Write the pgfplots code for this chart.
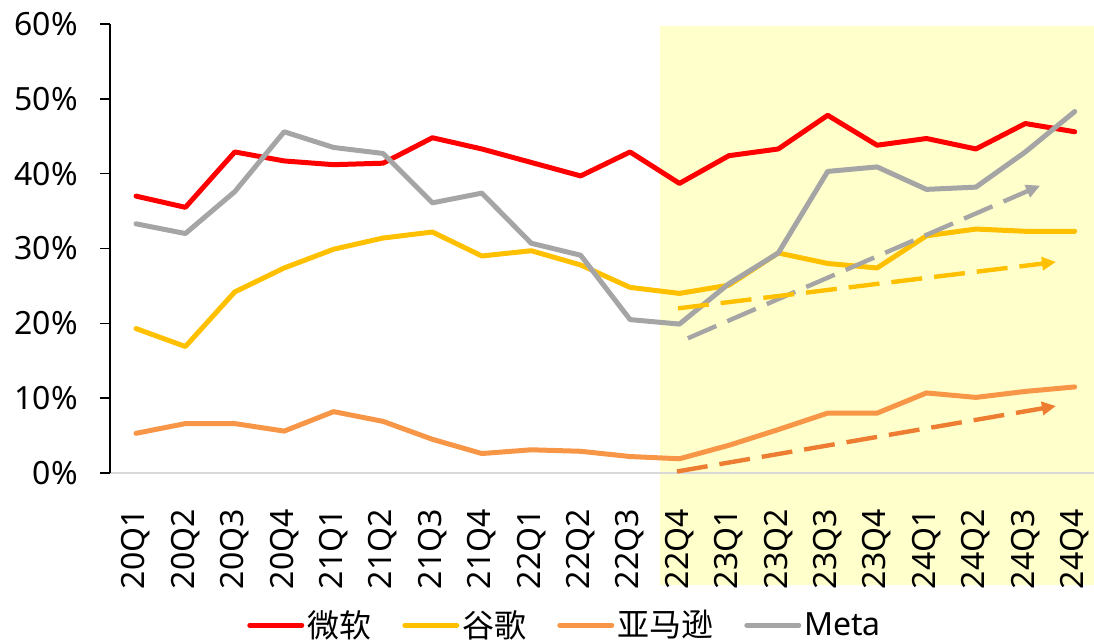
\documentclass[border=0pt]{standalone}
\usepackage{fontspec}
\setmainfont{Noto Sans}
\newfontfamily\cjk{Noto Sans CJK SC}
\usepackage{pgfplots}
\usepackage{pgfplotstable}
\pgfplotsset{compat=1.18}
\usetikzlibrary{arrows.meta}
\definecolor{cred}{HTML}{FF0000}
\definecolor{cyel}{HTML}{FFC000}
\definecolor{corg}{HTML}{F79646}
\definecolor{corgd}{HTML}{ED7D31}
\definecolor{cgry}{HTML}{A5A5A5}
\definecolor{chl}{HTML}{FFFFCC}
\definecolor{caxis}{HTML}{D9D9D9}

\pgfplotstableread{
x  ms   gg   amz  meta
0  37.0 19.3 5.3  33.3
1  35.5 16.9 6.6  32.0
2  42.9 24.2 6.6  37.6
3  41.7 27.4 5.6  45.6
4  41.2 29.9 8.2  43.5
5  41.4 31.4 6.9  42.7
6  44.8 32.2 4.5  36.1
7  43.3 29.0 2.6  37.4
8  41.5 29.7 3.1  30.7
9  39.7 27.8 2.9  29.1
10 42.9 24.8 2.2  20.5
11 38.7 24.0 1.9  19.9
12 42.4 25.1 3.7  25.3
13 43.3 29.4 5.8  29.4
14 47.8 28.0 8.0  40.3
15 43.8 27.4 8.0  40.9
16 44.7 31.7 10.7 37.9
17 43.3 32.6 10.1 38.2
18 46.7 32.3 10.9 42.9
19 45.6 32.3 11.5 48.3
}\datatable

\begin{document}
\begin{tikzpicture}
\begin{axis}[
  name=ax,
  scale only axis, width=492pt, height=224.5pt,
  xmin=-0.526, xmax=19.39, ymin=0, ymax=60,
  set layers, clip=false,
  axis lines=left, axis line style={-},
  x axis line style={draw=caxis, line width=0.8pt},
  y axis line style={draw=black, line width=0.8pt},
  xtick={0,...,19},
  xticklabels={20Q1,20Q2,20Q3,20Q4,21Q1,21Q2,21Q3,21Q4,22Q1,22Q2,22Q3,22Q4,23Q1,23Q2,23Q3,23Q4,24Q1,24Q2,24Q3,24Q4},
  xtick style={draw=none},
  ytick={0,10,20,30,40,50,60},
  yticklabels={0\%,10\%,20\%,30\%,40\%,50\%,60\%},
  ytick style={draw=black, line width=0.8pt},
  tick align=outside, major tick length=5pt,
  tick label style={font=\fontsize{16}{19}\selectfont, inner sep=0pt},
  xticklabel style={rotate=90, anchor=east},
  xticklabel shift=13pt,
  yticklabel style={anchor=east},
  yticklabel shift=11pt,
  legend columns=4,
  legend style={at={(0.463,-0.339)}, anchor=center, draw=none, fill=none,
    font=\fontsize{16}{19}\selectfont,
    /tikz/every even column/.append style={column sep=14pt},
    nodes={inner sep=1.5pt}},
  legend image code/.code={\draw[#1, line cap=round] (0pt,0pt) -- (26pt,0pt);},
  every axis plot/.append style={line join=round, line cap=round},
]
\addplot[draw=none, fill=chl, on layer=axis background, forget plot]
  coordinates {(10.61,59.74) (19.39,59.74) (19.39,-14.97) (10.61,-14.97)} -- cycle;

\addplot[cred, line width=2.5pt] table[x=x,y=ms]{\datatable};
\addlegendentry{\cjk 微软}
\addplot[cyel, line width=2.5pt] table[x=x,y=gg]{\datatable};
\addlegendentry{\cjk 谷歌}
\addplot[corg, line width=2.5pt] table[x=x,y=amz]{\datatable};
\addlegendentry{\cjk 亚马逊}
\addplot[cgry, line width=2.5pt] table[x=x,y=meta]{\datatable};
\addlegendentry{Meta}

\addplot[cgry, line width=2.2pt, line cap=butt, dash pattern=on 15.5pt off 6pt,
  -{Triangle[length=7pt,width=6.5pt]}, forget plot]
  coordinates {(11.17,18.0) (18.3,38.4)};
\addplot[cyel, line width=2.2pt, line cap=butt, dash pattern=on 15.5pt off 6pt,
  -{Triangle[length=7pt,width=6.5pt]}, forget plot]
  coordinates {(10.97,22.0) (18.62,28.2)};
\addplot[corgd, line width=2.2pt, line cap=butt, dash pattern=on 15.5pt off 6pt,
  -{Triangle[length=7pt,width=6.5pt]}, forget plot]
  coordinates {(10.95,0.2) (18.62,8.95)};
\end{axis}
\pgfresetboundingbox
\path[use as bounding box] (ax.south west) ++(-55pt,-84.5pt) rectangle ++(547pt,321pt);
\end{tikzpicture}
\end{document}
